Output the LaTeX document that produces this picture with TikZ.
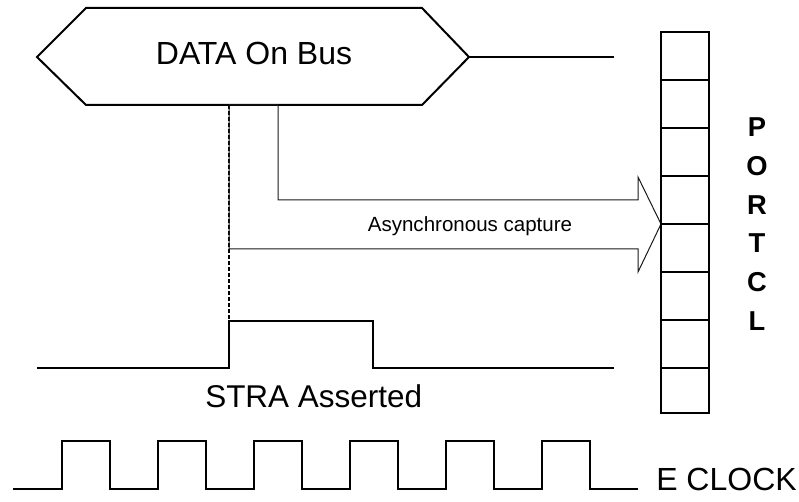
\documentclass[tikz,border=0pt]{standalone}
\usepackage{fontspec}
\setmainfont{Liberation Sans}
\usetikzlibrary{arrows}

\begin{document}
\begin{tikzpicture}[x=0.75pt,y=-0.75pt,
  wave/.style={line width=1.5pt,line join=miter},
  outline/.style={line width=0.75pt,black!90},
  bigtext/.style={inner sep=0pt,font=\fontsize{24}{29}\selectfont},
  smalltext/.style={inner sep=0pt,font=\fontsize{15.4}{18}\selectfont},
  portletter/.style={inner sep=0pt,anchor=base,font=\fontsize{20.5}{24}\selectfont\bfseries}]
\useasboundingbox (0,0) rectangle (799,502);
% data bus
\draw[wave] (37,57) -- (86,8) -- (422,8) -- (469,57) -- (422,105) -- (86,105) -- cycle;
\draw[wave] (469,57) -- (614,57);
\node[bigtext,anchor=base] (bus) at (254,65) {DATA On Bus};
% capture arrow
\draw[dashed,line width=0.8pt,dash pattern=on 3pt off 1.5pt] (229,105) -- (229,321);
\draw[outline] (229,105) -- (278,105) -- (278,200) -- (638,200) -- (638,177)
  -- (661,224) -- (638,272) -- (638,249) -- (229,249) -- cycle;
\node[smalltext,anchor=base] (capture) at (470,232) {Asynchronous capture};
% port register
\draw[wave] (661,32) rectangle (709,413);
\foreach \y in {80,128,...,368}
  \draw[wave] (661,\y) -- (709,\y);
\foreach \l [count=\i] in {P,O,R,T,C,L}
  \node[portletter] (port\i) at (757,{137+38.6*(\i-1)}) {\l};
% strobe
\draw[wave] (37,368) -- (229,368) -- (229,321) -- (373,321) -- (373,368) -- (614,368);
\node[bigtext,anchor=base west,font=\fontsize{23.6}{28}\selectfont] (stra) at (205,407) {STRA Asserted};
% clock
\draw[wave] (13,489) foreach \x in {62,158,254,350,446,542} {
  -- (\x,489) -- (\x,441) -- (\x+48,441) -- (\x+48,489) } -- (638,489);
\node[bigtext,anchor=base west] (eclk) at (656,490) {E CLOCK};
\end{tikzpicture}
\end{document}
